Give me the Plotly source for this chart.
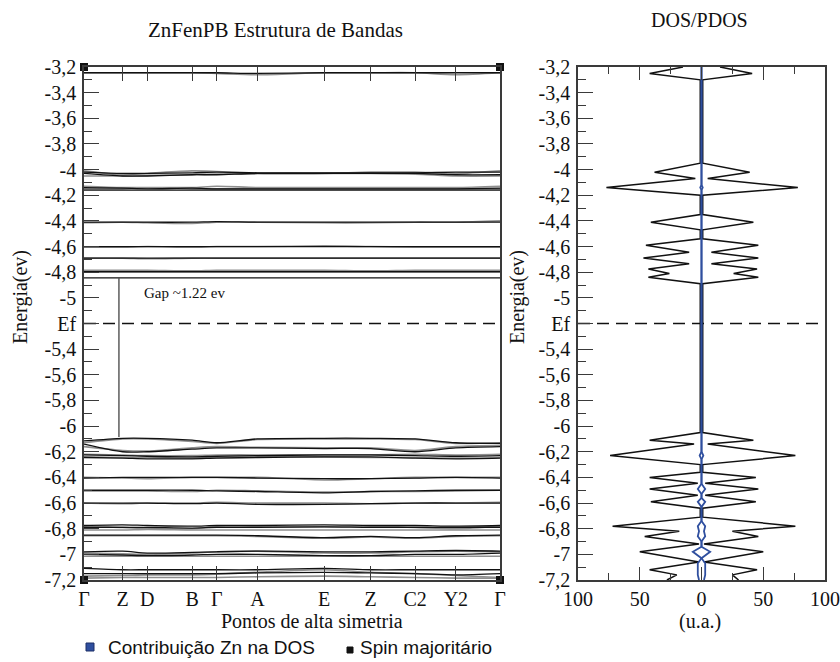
import plotly.graph_objects as go

W, H = 840, 662

# ---------------- data ----------------
kpath_labels = ["Γ", "Z", "D", "B", "Γ", "A", "E", "Z", "C2", "Y2", "Γ"]
kpath_pos = [0.0, 0.093, 0.152, 0.260, 0.319, 0.417, 0.577, 0.689, 0.796, 0.894, 1.0]

# majority spin bands (black), energies at the high-symmetry points
bands_major = [
    [-3.245, -3.245, -3.245, -3.245, -3.245, -3.25, -3.245, -3.245, -3.245, -3.245, -3.245],
    [-4.02, -4.03, -4.03, -4.025, -4.02, -4.025, -4.025, -4.025, -4.025, -4.02, -4.02],
    [-4.03, -4.05, -4.05, -4.04, -4.04, -4.03, -4.03, -4.03, -4.03, -4.04, -4.04],
    [-4.14, -4.145, -4.15, -4.145, -4.15, -4.15, -4.15, -4.15, -4.15, -4.15, -4.145],
    [-4.16, -4.16, -4.16, -4.16, -4.16, -4.16, -4.16, -4.16, -4.16, -4.16, -4.16],
    [-4.41, -4.41, -4.41, -4.41, -4.405, -4.41, -4.41, -4.41, -4.41, -4.41, -4.41],
    [-4.60, -4.60, -4.60, -4.60, -4.60, -4.60, -4.60, -4.60, -4.60, -4.60, -4.60],
    [-4.69, -4.69, -4.69, -4.69, -4.69, -4.69, -4.69, -4.69, -4.69, -4.69, -4.69],
    [-4.795, -4.795, -4.795, -4.795, -4.795, -4.795, -4.795, -4.795, -4.795, -4.795, -4.795],
    [-4.845, -4.845, -4.845, -4.845, -4.845, -4.845, -4.845, -4.845, -4.845, -4.845, -4.845],
    [-6.115, -6.095, -6.095, -6.11, -6.13, -6.10, -6.095, -6.095, -6.10, -6.13, -6.135],
    [-6.14, -6.20, -6.20, -6.18, -6.17, -6.17, -6.175, -6.175, -6.20, -6.17, -6.16],
    [-6.225, -6.23, -6.235, -6.24, -6.235, -6.23, -6.225, -6.225, -6.23, -6.235, -6.23],
    [-6.245, -6.25, -6.255, -6.255, -6.25, -6.245, -6.24, -6.24, -6.25, -6.255, -6.25],
    [-6.405, -6.40, -6.40, -6.40, -6.40, -6.405, -6.41, -6.41, -6.405, -6.40, -6.405],
    [-6.50, -6.50, -6.50, -6.50, -6.505, -6.51, -6.52, -6.51, -6.505, -6.50, -6.50],
    [-6.60, -6.60, -6.60, -6.605, -6.60, -6.61, -6.61, -6.605, -6.60, -6.60, -6.60],
    [-6.775, -6.77, -6.775, -6.78, -6.775, -6.775, -6.77, -6.775, -6.775, -6.78, -6.775],
    [-6.79, -6.79, -6.79, -6.795, -6.79, -6.79, -6.785, -6.79, -6.79, -6.79, -6.79],
    [-6.85, -6.85, -6.85, -6.85, -6.85, -6.855, -6.87, -6.86, -6.87, -6.855, -6.85],
    [-6.98, -6.975, -6.99, -6.985, -6.98, -6.975, -6.98, -6.98, -6.975, -6.97, -6.975],
    [-7.00, -7.005, -7.01, -7.005, -7.00, -7.00, -7.01, -7.01, -7.00, -7.00, -6.99],
    [-7.11, -7.12, -7.12, -7.12, -7.12, -7.12, -7.11, -7.12, -7.12, -7.12, -7.12],
    [-7.15, -7.15, -7.15, -7.15, -7.15, -7.145, -7.14, -7.145, -7.15, -7.16, -7.15],
]

# minority spin bands (gray)
bands_minor = [
    [-3.245, -3.245, -3.245, -3.245, -3.25, -3.26, -3.245, -3.245, -3.245, -3.26, -3.245],
    [-4.01, -4.04, -4.03, -4.01, -4.015, -4.03, -4.03, -4.02, -4.02, -4.03, -4.01],
    [-4.05, -4.05, -4.045, -4.04, -4.035, -4.03, -4.03, -4.03, -4.035, -4.05, -4.05],
    [-4.13, -4.14, -4.14, -4.14, -4.13, -4.14, -4.14, -4.14, -4.14, -4.14, -4.13],
    [-4.15, -4.15, -4.145, -4.15, -4.15, -4.15, -4.15, -4.15, -4.15, -4.15, -4.15],
    [-4.415, -4.41, -4.415, -4.42, -4.41, -4.41, -4.415, -4.415, -4.41, -4.41, -4.40],
    [-4.605, -4.605, -4.60, -4.605, -4.60, -4.60, -4.595, -4.60, -4.605, -4.605, -4.605],
    [-4.69, -4.69, -4.695, -4.69, -4.69, -4.69, -4.69, -4.69, -4.69, -4.69, -4.69],
    [-4.785, -4.785, -4.785, -4.79, -4.785, -4.785, -4.785, -4.79, -4.785, -4.785, -4.785],
    [-4.80, -4.80, -4.80, -4.80, -4.80, -4.80, -4.80, -4.80, -4.80, -4.80, -4.80],
    [-6.13, -6.10, -6.10, -6.12, -6.135, -6.105, -6.10, -6.10, -6.105, -6.135, -6.13],
    [-6.16, -6.19, -6.195, -6.17, -6.16, -6.165, -6.17, -6.17, -6.19, -6.16, -6.15],
    [-6.22, -6.225, -6.23, -6.23, -6.225, -6.225, -6.225, -6.225, -6.22, -6.225, -6.22],
    [-6.24, -6.245, -6.245, -6.25, -6.245, -6.24, -6.24, -6.245, -6.245, -6.25, -6.245],
    [-6.40, -6.405, -6.41, -6.40, -6.40, -6.40, -6.42, -6.41, -6.40, -6.40, -6.40],
    [-6.505, -6.505, -6.505, -6.51, -6.50, -6.505, -6.515, -6.51, -6.51, -6.505, -6.50],
    [-6.60, -6.605, -6.60, -6.60, -6.595, -6.60, -6.60, -6.605, -6.60, -6.60, -6.595],
    [-6.78, -6.79, -6.80, -6.80, -6.785, -6.785, -6.785, -6.78, -6.79, -6.80, -6.78],
    [-6.81, -6.81, -6.805, -6.81, -6.81, -6.81, -6.81, -6.81, -6.81, -6.81, -6.81],
    [-6.855, -6.855, -6.855, -6.855, -6.855, -6.86, -6.875, -6.865, -6.875, -6.86, -6.855],
    [-6.99, -6.995, -7.00, -6.99, -6.98, -6.975, -6.99, -6.99, -6.98, -6.975, -6.98],
    [-7.015, -7.015, -7.015, -7.015, -7.015, -7.015, -7.015, -7.015, -7.015, -7.015, -7.015],
    [-7.17, -7.165, -7.16, -7.16, -7.155, -7.14, -7.12, -7.14, -7.15, -7.165, -7.18],
    [-7.185, -7.18, -7.18, -7.18, -7.18, -7.175, -7.17, -7.175, -7.18, -7.185, -7.185],
]

fermi_level = -5.2
gap_k = 0.084
gap_top = -4.848
gap_bottom = -6.085
gap_label = "Gap ~1.22 ev"

# DOS (right: majority spin, left: minority spin mirrored)
dos_e = [-3.2, -3.25, -3.30, -3.95, -4.02, -4.07, -4.14, -4.20, -4.35, -4.41, -4.47,
         -4.54, -4.59, -4.645, -4.69, -4.735, -4.775, -4.81, -4.84, -4.89,
         -6.05, -6.11, -6.14, -6.23, -6.30, -6.36, -6.40, -6.445, -6.49, -6.54, -6.59,
         -6.64, -6.71, -6.78, -6.82, -6.86, -6.92, -6.98, -7.06, -7.12, -7.16, -7.2]
dos_up = [15, 41, 1, 1, 39, 5, 78, 1, 1, 42, 1,
          1, 46, 8, 46, 8, 45, 26, 46, 1,
          1, 42, 5, 76, 1, 1, 44, 3, 46, 3, 44,
          1, 1, 76, 25, 46, 2, 50, 2, 45, 25, 30]
dos_dn = [15, 42, 1, 1, 38, 5, 77, 1, 1, 41, 1,
          1, 45, 10, 47, 10, 43, 26, 43, 1,
          1, 42, 6, 74, 1, 1, 42, 3, 42, 3, 41,
          1, 1, 72, 18, 46, 2, 50, 2, 42, 20, 28]

# Zn contribution
zn_e = [-3.2, -4.12, -4.14, -4.16, -6.2, -6.23, -6.26, -6.45, -6.49, -6.53, -6.56, -6.59,
        -6.63, -6.74, -6.78, -6.82, -6.86, -6.90, -6.94, -6.98, -7.03, -7.07, -7.12,
        -7.16, -7.2]
zn_val = [0, 0, 1, 0, 0, 1.5, 0, 0, 3, 0, 0, 3,
          0, 0, 3, 2, 3, 0, 0, 7, 0, 3, 3,
          3, 2]

ytick_vals = [-3.2, -3.4, -3.6, -3.8, -4.0, -4.2, -4.4, -4.6, -4.8, -5.0, -5.2,
              -5.4, -5.6, -5.8, -6.0, -6.2, -6.4, -6.6, -6.8, -7.0, -7.2]
ytick_text = ["-3,2", "-3,4", "-3,6", "-3,8", "-4", "-4,2", "-4,4", "-4,6", "-4,8", "-5", "Ef",
              "-5,4", "-5,6", "-5,8", "-6", "-6,2", "-6,4", "-6,6", "-6,8", "-7", "-7,2"]
dos_tick_vals = [-100, -50, 0, 50, 100]
dos_tick_text = ["100", "50", "0", "50", "100"]

# ---------------- style ----------------
SERIF = "Liberation Serif"
SANS = "Liberation Sans"
BLACK = "#111111"
GRAY = "#8f8f8f"
BLUE = "#2f4f9f"
AXC = "#3a3a3a"


def px(x):
    return x / W


def py(y):
    return 1 - y / H


fig = go.Figure()

for b in bands_minor:
    fig.add_trace(go.Scatter(x=kpath_pos, y=b, mode="lines", xaxis="x", yaxis="y",
                             line=dict(color=GRAY, width=1.6, shape="spline", smoothing=0.8),
                             hoverinfo="skip", showlegend=False))
for b in bands_major:
    fig.add_trace(go.Scatter(x=kpath_pos, y=b, mode="lines", xaxis="x", yaxis="y",
                             line=dict(color=BLACK, width=1.3, shape="spline", smoothing=0.8),
                             hoverinfo="skip", showlegend=False))

# Fermi level
fig.add_trace(go.Scatter(x=[0, 1], y=[fermi_level, fermi_level], mode="lines",
                         xaxis="x", yaxis="y",
                         line=dict(color=BLACK, width=1.6, dash="12px,7px"),
                         hoverinfo="skip", showlegend=False))
# gap line
fig.add_trace(go.Scatter(x=[gap_k, gap_k], y=[gap_top, gap_bottom], mode="lines",
                         xaxis="x", yaxis="y", line=dict(color="#333333", width=1.2),
                         hoverinfo="skip", showlegend=False))
# corner markers
fig.add_trace(go.Scatter(x=[0, 1, 0, 1], y=[-3.2, -3.2, -7.2, -7.2], mode="markers",
                         xaxis="x", yaxis="y", cliponaxis=False,
                         marker=dict(symbol="square", size=8, color=BLACK),
                         hoverinfo="skip", showlegend=False))

# DOS
fig.add_trace(go.Scatter(x=dos_up, y=dos_e, mode="lines", xaxis="x2", yaxis="y2",
                         line=dict(color=BLACK, width=1.5), hoverinfo="skip", showlegend=False))
fig.add_trace(go.Scatter(x=[-v for v in dos_dn], y=dos_e, mode="lines", xaxis="x2", yaxis="y2",
                         line=dict(color=BLACK, width=1.5), hoverinfo="skip", showlegend=False))
fig.add_trace(go.Scatter(x=[-100, 100], y=[fermi_level, fermi_level], mode="lines",
                         xaxis="x2", yaxis="y2",
                         line=dict(color=BLACK, width=1.6, dash="12px,7px"),
                         hoverinfo="skip", showlegend=False))
fig.add_trace(go.Scatter(x=zn_val, y=zn_e, mode="lines", xaxis="x2", yaxis="y2",
                         line=dict(color=BLUE, width=1.8), hoverinfo="skip", showlegend=False))
fig.add_trace(go.Scatter(x=[-v for v in zn_val], y=zn_e, mode="lines", xaxis="x2", yaxis="y2",
                         line=dict(color=BLUE, width=1.8), hoverinfo="skip", showlegend=False))

tickfont = dict(family=SERIF, size=20, color=BLACK)
yaxis_common = dict(range=[-7.2, -3.2], tickvals=ytick_vals, ticktext=ytick_text,
                    ticks="inside", ticklen=15, tickwidth=1.2, tickcolor=AXC,
                    minor=dict(ticks="inside", ticklen=8, dtick=0.1, tick0=-7.2,
                               tickcolor=AXC, tickwidth=1.2, showgrid=False),
                    showline=True, linecolor=AXC, linewidth=1.5, mirror=True,
                    showgrid=False, zeroline=False, tickfont=tickfont, automargin=False,
                    ticklabelstandoff=2,
                    domain=[py(580), py(67)])

fig.update_layout(
    template="none",
    width=W, height=H,
    margin=dict(l=0, r=0, t=0, b=0, pad=0),
    paper_bgcolor="white", plot_bgcolor="white",
    showlegend=False,
    xaxis=dict(domain=[px(84), px(500)], range=[0, 1], tickvals=kpath_pos,
               ticktext=kpath_labels, ticks="inside", ticklen=14, tickwidth=1.2,
               tickcolor=AXC, showline=True, linecolor=AXC, linewidth=1.5,
               mirror="ticks", showgrid=False, zeroline=False, tickfont=tickfont,
               automargin=False, anchor="y"),
    yaxis=dict(anchor="x", **yaxis_common),
    xaxis2=dict(domain=[px(578), px(825)], range=[-100, 100], tickvals=dos_tick_vals,
                ticktext=dos_tick_text, ticks="inside", ticklen=13, tickwidth=1.2,
                tickcolor=AXC,
                minor=dict(ticks="inside", ticklen=7, dtick=25, tick0=0,
                           tickcolor=AXC, tickwidth=1.2, showgrid=False),
                showline=True, linecolor=AXC, linewidth=1.5, mirror="ticks",
                showgrid=False, zeroline=False, tickfont=tickfont, automargin=False,
                anchor="y2"),
    yaxis2=dict(anchor="x2", **yaxis_common),
)

annos = [
    dict(text="ZnFenPB Estrutura de Bandas", x=px(275), y=py(30), size=21, family=SERIF),
    dict(text="DOS/PDOS", x=px(699), y=py(20), size=20, family=SERIF),
    dict(text="Pontos de alta simetria", x=px(312), y=py(621), size=20, family=SERIF),
    dict(text="(u.a.)", x=px(700), y=py(621), size=20, family=SERIF),
]
for a in annos:
    fig.add_annotation(text=a["text"], x=a["x"], y=a["y"], xref="paper", yref="paper",
                       showarrow=False, xanchor="center", yanchor="middle",
                       font=dict(family=a["family"], size=a["size"], color=BLACK))

for xc in [20, 517]:
    fig.add_annotation(text="Energia(ev)", x=px(xc), y=py(297), xref="paper", yref="paper",
                       showarrow=False, textangle=-90, xanchor="center", yanchor="middle",
                       font=dict(family=SERIF, size=20, color=BLACK))

fig.add_annotation(text=gap_label, x=0.139, y=-4.962, xref="x", yref="y",
                   showarrow=False, xanchor="left", yanchor="middle",
                   font=dict(family=SERIF, size=15, color=BLACK))

# legend
fig.add_shape(type="rect", x0=px(86), x1=px(94), y0=py(651), y1=py(643),
              xref="paper", yref="paper", fillcolor=BLUE, line=dict(color="#1c2f66", width=1))
fig.add_annotation(text="Contribuição Zn na DOS", x=px(106), y=py(647), xref="paper",
                   yref="paper", showarrow=False, xanchor="left", yanchor="middle",
                   font=dict(family=SANS, size=19, color=BLACK))
fig.add_shape(type="rect", x0=px(347), x1=px(353), y0=py(653), y1=py(647),
              xref="paper", yref="paper", fillcolor=BLACK, line=dict(color=BLACK, width=1))
fig.add_annotation(text="Spin majoritário", x=px(358), y=py(647), xref="paper",
                   yref="paper", showarrow=False, xanchor="left", yanchor="middle",
                   font=dict(family=SANS, size=19, color=BLACK))

fig.write_html("out.html", config={"displayModeBar": False},
               post_script="document.body.style.margin='0';document.body.style.overflow='hidden';")
